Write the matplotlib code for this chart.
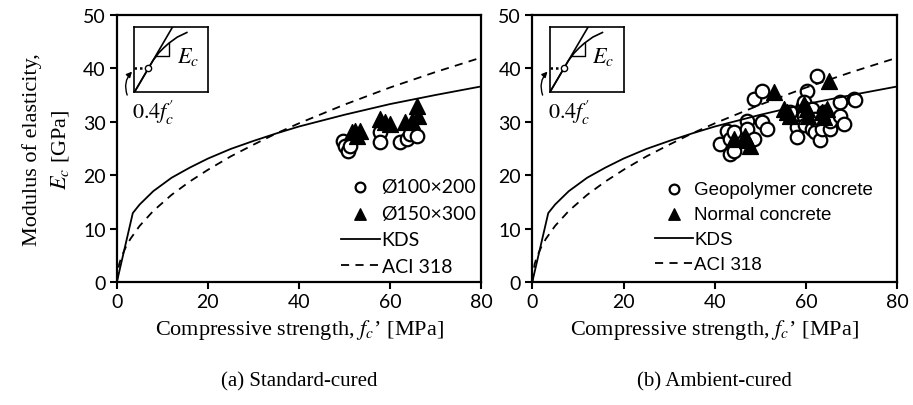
"""Modulus of elasticity vs compressive strength, standard- and ambient-cured."""

import matplotlib

matplotlib.use("Agg")
import matplotlib.pyplot as plt

plt.rcParams["mathtext.fontset"] = "stix"
plt.rcParams["font.family"] = ["Liberation Serif", "DejaVu Serif"]

# Code curves (f_c' in MPa, E_c in GPa)
kds_fc = [0, 3.5, 5, 8, 12, 16, 20, 25, 30, 35, 40, 50, 60, 70, 80]
kds_ec = [0, 12.9, 14.5, 17.0, 19.5, 21.4, 23.1, 24.9, 26.4, 27.8, 29.1, 31.3, 33.3, 35.0, 36.6]
aci_fc = [0, 0.5, 1, 2, 3, 5, 8, 12, 16, 20, 25, 30, 35, 40, 50, 60, 70, 80]
aci_ec = [0, 3.3, 4.7, 6.6, 8.1, 10.5, 13.3, 16.3, 18.8, 21.0, 23.5, 25.7, 27.8, 29.7, 33.2, 36.4, 39.3, 42.0]

# (a) standard-cured specimens
d100_fc = [49.7, 50.1, 50.8, 51.2, 57.8, 57.8, 62.2, 63.7, 64.4, 65.9]
d100_ec = [26.4, 25.5, 24.5, 25.5, 28.1, 26.2, 26.2, 26.8, 27.7, 27.3]
d150_fc = [51.6, 52.3, 53.4, 52.7, 57.8, 58.9, 60.0, 63.3, 64.8, 65.9, 66.2]
d150_ec = [28.1, 28.3, 28.3, 27.3, 30.5, 30.0, 29.6, 30.0, 30.2, 33.0, 31.1]

# (b) ambient-cured specimens
geo_fc = [41.2, 42.7, 43.4, 43.4, 44.1, 44.1, 47.1, 47.1, 48.5, 48.5, 50.3, 50.3,
          51.4, 58.0, 58.0, 56.5, 60.2, 59.4, 62.4, 59.5, 61.3, 59.5, 59.8, 61.3,
          62.0, 63.1, 63.5, 65.3, 65.3, 67.5, 67.5, 70.4, 70.8, 62.0, 63.9, 68.2]
geo_ec = [25.8, 28.3, 26.8, 24.0, 24.5, 28.1, 30.2, 28.7, 26.8, 34.3, 35.8, 30.0,
          28.7, 29.0, 27.2, 31.8, 35.8, 33.0, 38.6, 33.6, 32.4, 31.1, 29.3, 28.7,
          28.0, 26.5, 28.7, 28.7, 30.2, 31.1, 33.6, 34.3, 34.0, 30.5, 31.8, 29.6]
nc_fc = [44.1, 46.7, 47.1, 47.8, 52.9, 55.1, 55.8, 56.5, 59.5, 60.2, 60.5, 63.5, 63.9, 64.6, 64.9]
nc_ec = [26.8, 27.4, 26.5, 25.5, 35.5, 32.4, 31.8, 31.1, 33.3, 32.4, 31.1, 31.8, 30.9, 32.4, 37.7]

# schematic stress-strain sketch in the inset (inset units 0..1)
sketch_x = [0, 0.25, 0.33, 0.40, 0.47, 0.58, 0.71]
sketch_y = [0, 0.48, 0.60, 0.68, 0.75, 0.84, 0.91]

TICK_FONT = "Lato"


def draw_inset(ax):
    ins = ax.inset_axes([0.048, 0.71, 0.203, 0.246])
    ins.set_xlim(0, 1)
    ins.set_ylim(0, 1)
    ins.set_xticks([])
    ins.set_yticks([])
    for sp in ins.spines.values():
        sp.set_linewidth(1.2)
    ins.plot([0, 0.52], [0, 1.0], color="black", lw=1.2)
    ins.plot(sketch_x, sketch_y, color="black", lw=1.2)
    ins.plot([0.29, 0.47, 0.47], [0.56, 0.56, 0.75], color="black", lw=1.0)
    ins.plot([0, 0.19], [0.365, 0.365], color="black", lw=1.8, ls=(0, (1, 1.2)))
    ins.plot([0.19], [0.365], "o", ms=4.5, mfc="white", mec="black", mew=1.0)
    ins.text(0.57, 0.55, "$E_c$", fontsize=16, ha="left", va="center")
    ax.text(0.042, 0.635, r"$0.4f_c^{\prime}$", transform=ax.transAxes,
            fontsize=16, ha="left", va="center")
    ax.annotate("", xy=(0.047, 0.795), xytext=(0.031, 0.69),
                xycoords="axes fraction", textcoords="axes fraction",
                arrowprops=dict(arrowstyle="-|>", color="black", lw=1.0,
                                mutation_scale=8,
                                connectionstyle="arc3,rad=-0.35"))


def style_axes(ax):
    ax.set_xlim(0, 80)
    ax.set_ylim(0, 50)
    ax.set_xticks([0, 20, 40, 60, 80])
    ax.set_yticks([0, 10, 20, 30, 40, 50])
    for sp in ax.spines.values():
        sp.set_linewidth(1.6)
    ax.tick_params(direction="out", length=5, width=1.5, labelsize=14, pad=3)
    for lab in ax.get_xticklabels() + ax.get_yticklabels():
        lab.set_fontfamily(TICK_FONT)
    ax.set_xlabel("Compressive strength, $f_c$\u2019 [MPa]", fontsize=16, labelpad=5)


fig = plt.figure(figsize=(9.13, 4.06), dpi=100)
ax1 = fig.add_axes([0.128, 0.303, 0.399, 0.658])
ax2 = fig.add_axes([0.583, 0.303, 0.400, 0.658])

circ_kw = dict(marker="o", s=95, facecolors="white", edgecolors="black", linewidths=1.6)
tri_kw = dict(marker="^", s=130, color="black")

ax1.scatter(d100_fc, d100_ec, label="Ø100×200", **circ_kw)
ax1.scatter(d150_fc, d150_ec, label="Ø150×300", **tri_kw)
ax1.plot(kds_fc, kds_ec, color="black", lw=1.3, label="KDS")
ax1.plot(aci_fc, aci_ec, color="black", lw=1.3, ls=(0, (4.5, 3.5)), label="ACI 318")
style_axes(ax1)
ax1.set_ylabel("Modulus of elasticity,\n$E_c$ [GPa]", fontsize=16, linespacing=1.45)
ax1.yaxis.set_label_coords(-0.125, 0.5)
ax1.legend(loc="lower right", bbox_to_anchor=(1.035, -0.04), frameon=False,
           prop={"family": TICK_FONT, "size": 14}, handlelength=2.0,
           handletextpad=0.1, labelspacing=0.5, markerscale=0.72)
draw_inset(ax1)

ax2.scatter(geo_fc, geo_ec, label="Geopolymer concrete", **circ_kw)
ax2.scatter(nc_fc, nc_ec, label="Normal concrete", **tri_kw)
ax2.plot(kds_fc, kds_ec, color="black", lw=1.3, label="KDS")
ax2.plot(aci_fc, aci_ec, color="black", lw=1.3, ls=(0, (4.5, 3.5)), label="ACI 318")
style_axes(ax2)
ax2.legend(loc="lower left", bbox_to_anchor=(0.29, -0.03), frameon=False,
           prop={"family": "Liberation Sans", "size": 13.5}, handlelength=2.0,
           handletextpad=0.1, labelspacing=0.42, markerscale=0.72)
draw_inset(ax2)

fig.text(0.328, 0.06, "(a) Standard-cured", fontsize=15, ha="center", va="center")
fig.text(0.783, 0.06, "(b) Ambient-cured", fontsize=15, ha="center", va="center")

fig.savefig("out.png", dpi=100)
